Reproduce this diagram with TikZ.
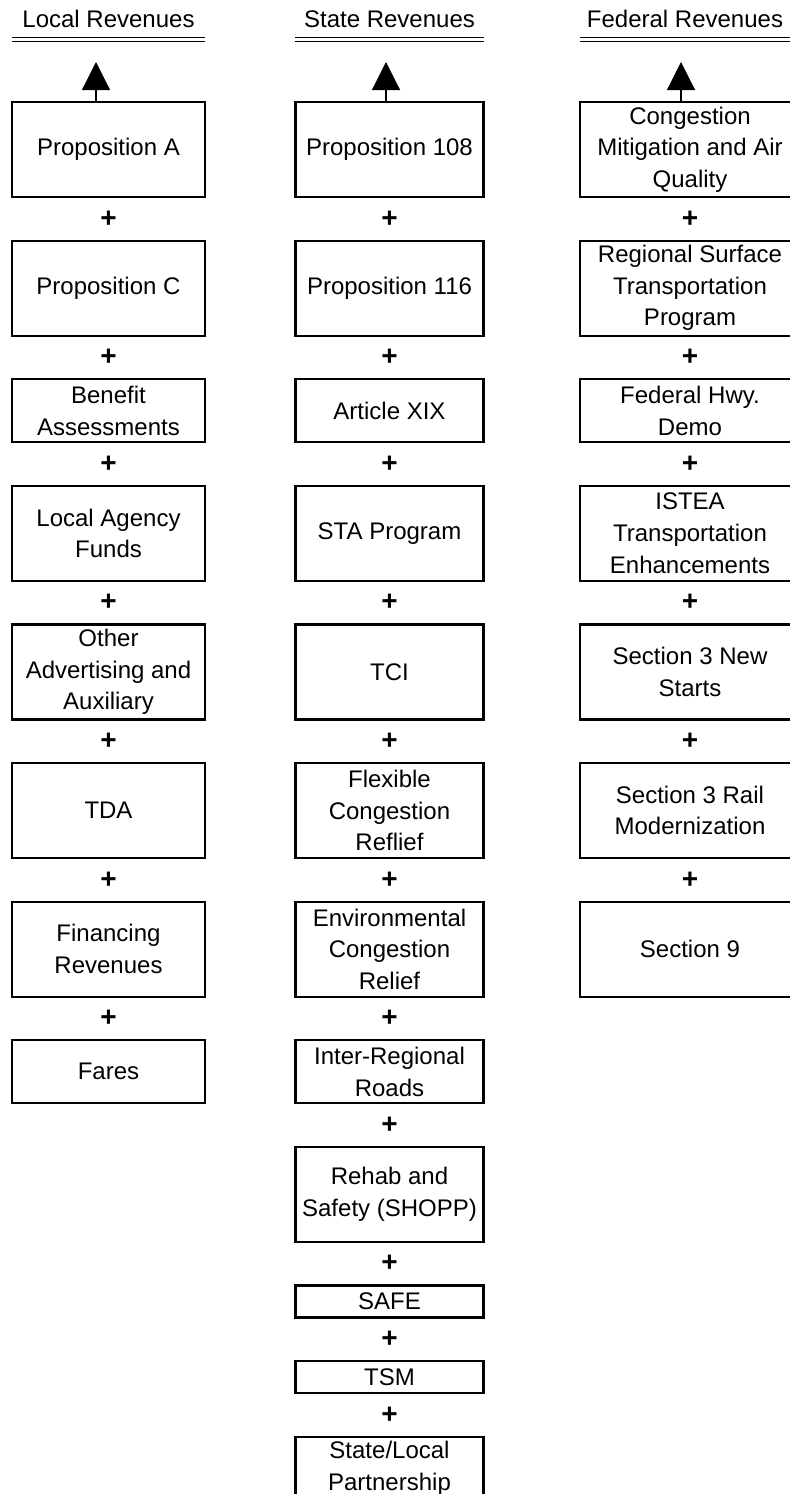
\documentclass[tikz,border=0pt]{standalone}
\usepackage{fontspec}
\setmainfont{Liberation Sans}
\usetikzlibrary{arrows.meta}
\usetikzlibrary{positioning}

\begin{document}
\begin{tikzpicture}[x=0.5pt, y=-0.5pt, node distance=5.9pt, % one unit = one pixel
			font=\fontsize{12}{15.8}\selectfont,
			block/.style={
					rectangle,
					draw,
					line width=1.1pt,
					align=center,
					minimum height=47.5pt,
					inner sep=1pt,
					outer sep=0pt
				},
			colL/.style={block, minimum width=96.5pt},
			colS/.style={block, minimum width=94pt},
			colF/.style={block, minimum width=110pt},
			lowbox/.style={minimum height=31.5pt},
			flatbox/.style={minimum height=16pt},
			plus/.style={inner sep=0pt, outer sep=0pt, minimum height=10pt, font=\fontsize{14}{15.8}\selectfont\bfseries},
			head/.style={inner sep=0pt, anchor=base, text height=9pt, text depth=6pt},
			rule/.style={draw, double, line width=0.8pt, double distance=1.2pt},
			line/.style={draw, line width=0.6pt, -{Triangle[width=14pt,length=14pt]}}
		]
		\useasboundingbox (0,0) rectangle (790,1494);
		\clip (0,0) rectangle (790,1494);
		% Headers
		\node [head, minimum width=96.5pt] (headL) at (108.5,27) {Local Revenues};
		\node [head, minimum width=94pt] (headS) at (389.5,27) {State Revenues};
		\node [head, minimum width=105pt] (headF) at (685,27) {Federal Revenues};
		\coordinate (topL) at (96,62);
		\coordinate (topS) at (386,62);
		\coordinate (topF) at (681,62);
		% Local column
		\node [colL, anchor=north] (propA) at (108.5,102) {Proposition A};
		\node [plus, below=of propA] (lp1) {+};
		\node [colL, below=of lp1] (propC) {Proposition C};
		\node [plus, below=of propC] (lp2) {+};
		\node [colL, lowbox, below=of lp2] (benefit) {Benefit\\Assessments};
		\node [plus, below=of benefit] (lp3) {+};
		\node [colL, below=of lp3] (agency) {Local Agency\\Funds};
		\node [plus, below=of agency] (lp4) {+};
		\node [colL, below=of lp4] (other) {Other\\Advertising and\\Auxiliary};
		\node [plus, below=of other] (lp5) {+};
		\node [colL, below=of lp5] (tda) {TDA};
		\node [plus, below=of tda] (lp6) {+};
		\node [colL, below=of lp6] (financing) {Financing\\Revenues};
		\node [plus, below=of financing] (lp7) {+};
		\node [colL, lowbox, below=of lp7] (fares) {Fares};
		% State column
		\node [colS, anchor=north] (prop108) at (389.5,102) {Proposition 108};
		\node [plus, below=of prop108] (sp1) {+};
		\node [colS, below=of sp1] (prop116) {Proposition 116};
		\node [plus, below=of prop116] (sp2) {+};
		\node [colS, lowbox, below=of sp2] (artxix) {Article XIX};
		\node [plus, below=of artxix] (sp3) {+};
		\node [colS, below=of sp3] (sta) {STA Program};
		\node [plus, below=of sta] (sp4) {+};
		\node [colS, below=of sp4] (tci) {TCI};
		\node [plus, below=of tci] (sp5) {+};
		\node [colS, below=of sp5] (flexible) {Flexible\\Congestion\\Reflief};
		\node [plus, below=of flexible] (sp6) {+};
		\node [colS, below=of sp6] (environ) {Environmental\\Congestion\\Relief};
		\node [plus, below=of environ] (sp7) {+};
		\node [colS, lowbox, below=of sp7] (interreg) {Inter-Regional\\Roads};
		\node [plus, below=of interreg] (sp8) {+};
		\node [colS, below=of sp8] (rehab) {Rehab and\\Safety (SHOPP)};
		\node [plus, below=of rehab] (sp9) {+};
		\node [colS, flatbox, below=of sp9] (safe) {SAFE};
		\node [plus, below=of safe] (sp10) {+};
		\node [colS, flatbox, below=of sp10] (tsm) {TSM};
		\node [plus, below=of tsm] (sp11) {+};
		\node [colS, lowbox, below=of sp11] (partner) {State/Local\\Partnership};
		% Federal column
		\node [colF, anchor=north] (cmaq) at (690,102) {Congestion\\Mitigation and Air\\Quality};
		\node [plus, below=of cmaq] (fp1) {+};
		\node [colF, below=of fp1] (rstp) {Regional Surface\\Transportation\\Program};
		\node [plus, below=of rstp] (fp2) {+};
		\node [colF, lowbox, below=of fp2] (fedhwy) {Federal Hwy.\\Demo};
		\node [plus, below=of fedhwy] (fp3) {+};
		\node [colF, below=of fp3] (istea) {ISTEA\\Transportation\\Enhancements};
		\node [plus, below=of istea] (fp4) {+};
		\node [colF, below=of fp4] (newstarts) {Section 3 New\\Starts};
		\node [plus, below=of newstarts] (fp5) {+};
		\node [colF, below=of fp5] (railmod) {Section 3 Rail\\Modernization};
		\node [plus, below=of railmod] (fp6) {+};
		\node [colF, below=of fp6] (sec9) {Section 9};
		% Draw rules and arrows
		\path [rule] (headL.south west) -- (headL.south east);
		\path [rule] (headS.south west) -- (headS.south east);
		\path [rule] (headF.south west) -- (headF.south east);
		\path [line] (propA.north -| topL) -- (topL);
		\path [line] (prop108.north -| topS) -- (topS);
		\path [line] (cmaq.north -| topF) -- (topF);
	\end{tikzpicture}
\end{document}
